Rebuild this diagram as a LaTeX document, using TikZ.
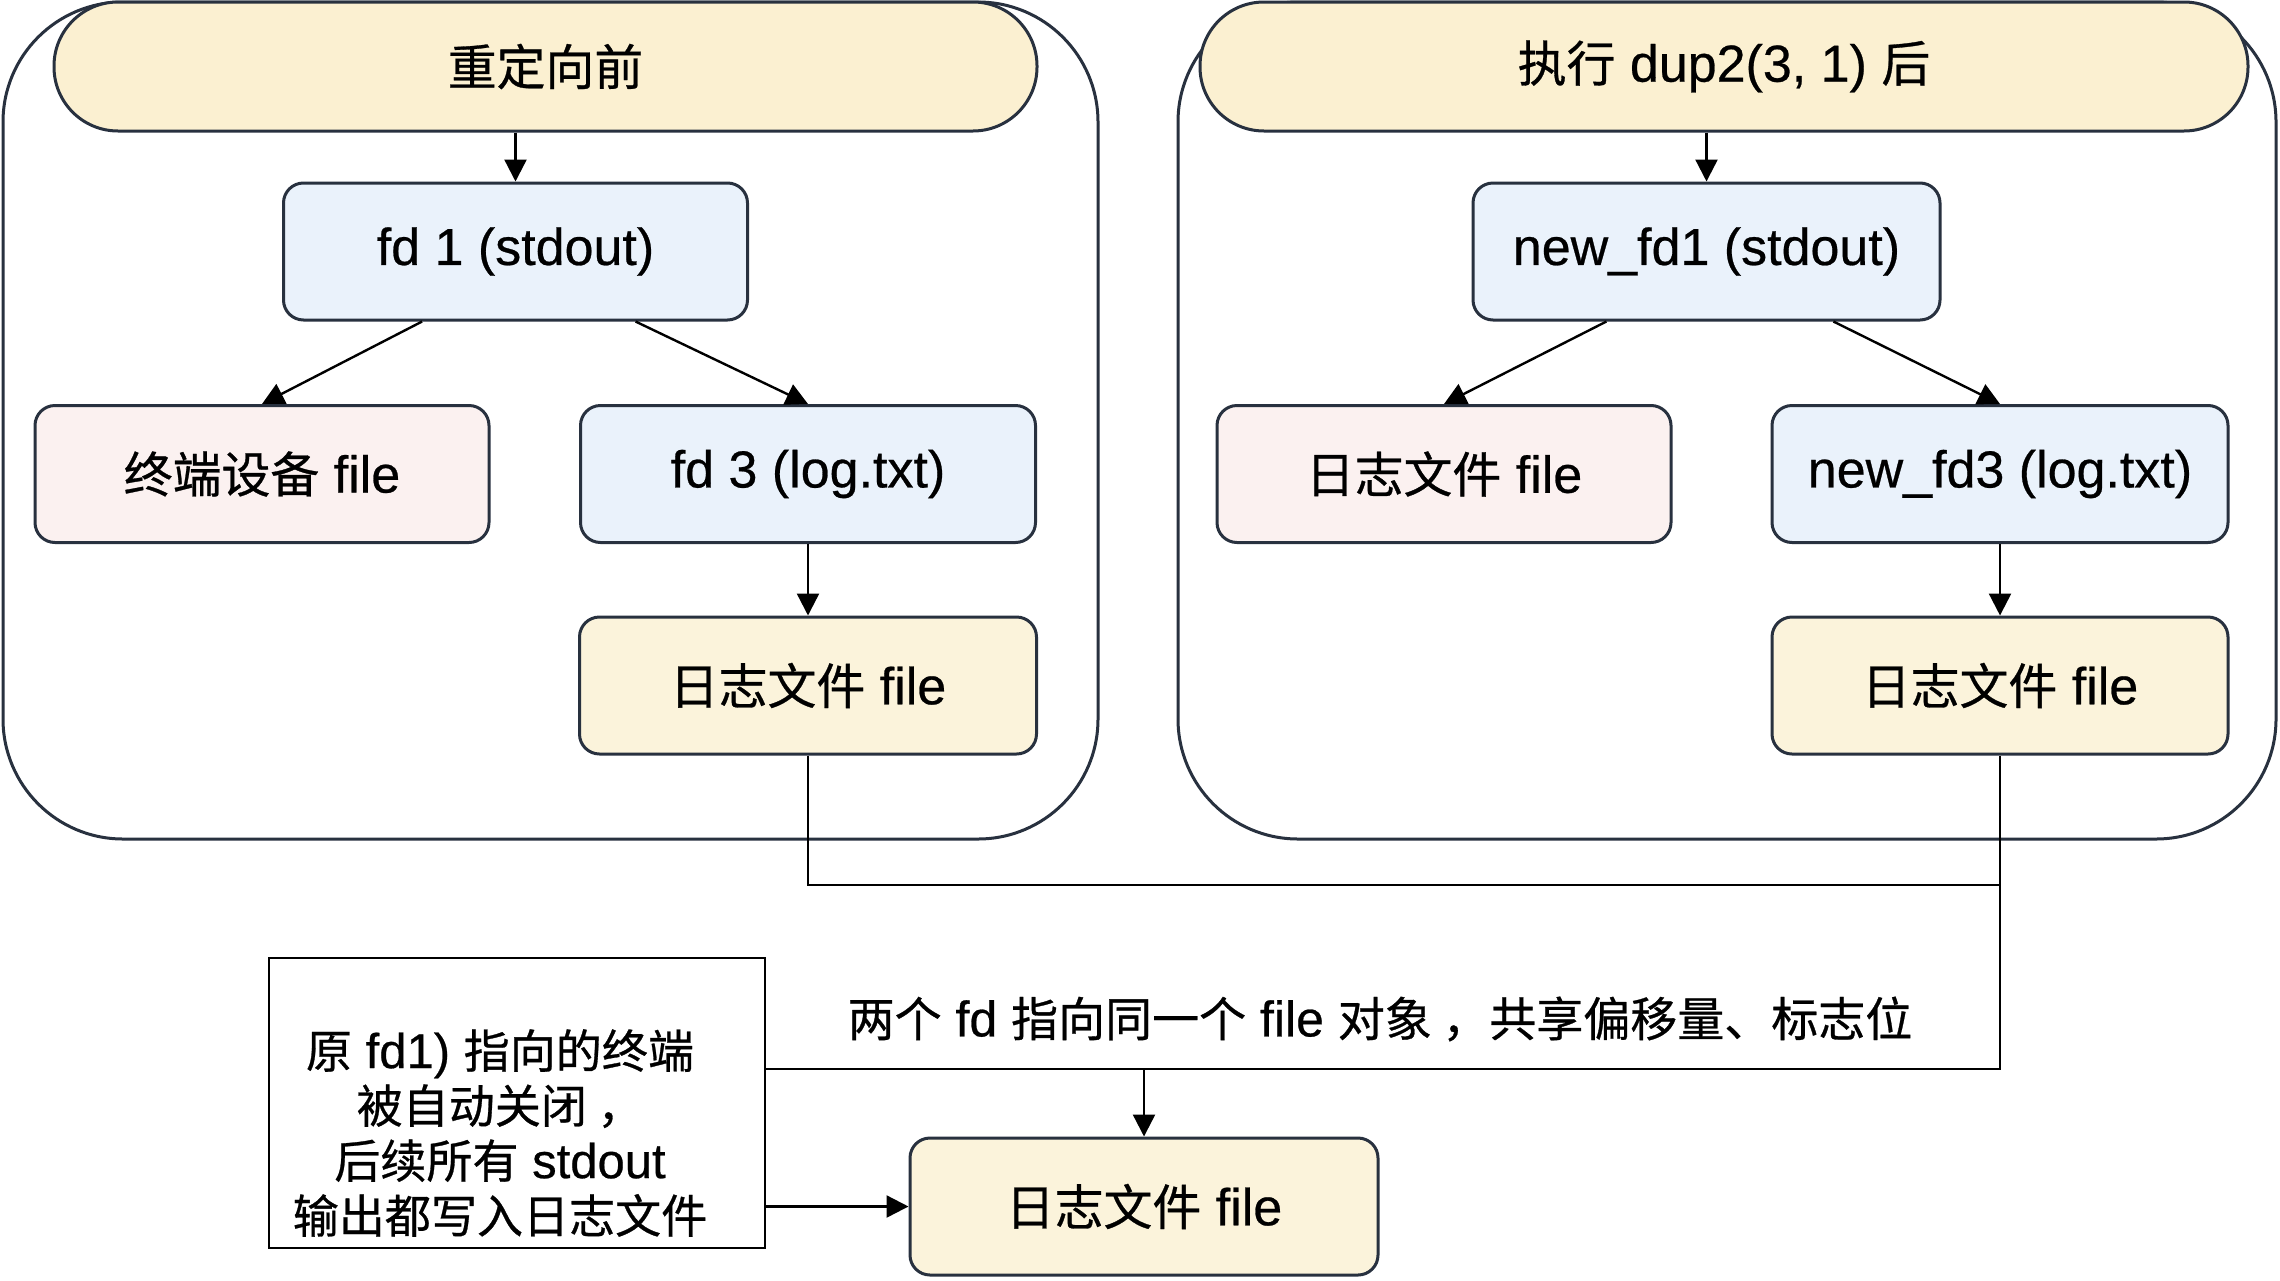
\documentclass[tikz,border=0pt]{standalone}
\usepackage{fontspec}
\setmainfont{Liberation Sans}[FakeBold=0.5]
\newfontfamily\cjkfont{Noto Sans CJK SC}[Scale=0.94,FakeBold=0.6]
\newcommand\zh[1]{{\cjkfont #1}}
\usetikzlibrary{arrows.meta,calc}
\definecolor{bord}{HTML}{28313F}
\definecolor{pillY}{HTML}{FBF0D1}
\definecolor{logY}{HTML}{FBF3DB}
\definecolor{boxB}{HTML}{EAF2FB}
\definecolor{boxP}{HTML}{FBF1F0}
\begin{document}
\begin{tikzpicture}[x=0.5pt,y=-0.5pt,
  font=\fontsize{26}{30}\selectfont,
  container/.style={draw=bord, line width=1.5pt, rounded corners=60pt, fill=white, inner sep=0pt},
  pill/.style={draw=bord, line width=1.5pt, rounded corners=32pt, fill=pillY, minimum height=64.5pt, inner sep=0pt},
  box/.style={draw=bord, line width=1.5pt, rounded corners=10pt, minimum height=68.5pt, inner sep=0pt},
  bluebox/.style={box, fill=boxB},
  pinkbox/.style={box, fill=boxP},
  logbox/.style={box, fill=logY},
  notebox/.style={draw=black, line width=1.2pt, fill=white, inner sep=0pt},
  arr/.style={-{Triangle[length=11pt,width=11pt]}, line width=1.2pt},
  ln/.style={line width=1.3pt}]
\useasboundingbox (0,0) rectangle (2280,1280);
\fill[white] (0,0) rectangle (2280,1280);

% containers
\node[container, minimum width=547.5pt, minimum height=418.5pt] (lc) at (550.5,420.5) {};
\node[container, minimum width=549pt, minimum height=418.5pt] (rc) at (1727,420.5) {};

% titles
\node[pill, minimum width=491.5pt] (lt) at (545.5,66.5) {\zh{重定向前}};
\node[pill, minimum width=524pt] (rt) at (1724,66.5) {\zh{执行} dup2(3, 1) \zh{后}};

% left side
\node[bluebox, minimum width=232pt] (fd1) at (515.5,251.5) {fd 1 (stdout)};
\node[pinkbox, minimum width=227pt] (term) at (262,474) {\zh{终端设备} file};
\node[bluebox, minimum width=227.5pt] (fd3) at (808,474) {fd 3 (log.txt)};
\node[logbox, minimum width=228.5pt] (logL) at (808,685.5) {\zh{日志文件} file};

% right side
\node[bluebox, minimum width=233.5pt] (nfd1) at (1706.5,251.5) {new\_fd1 (stdout)};
\node[pinkbox, minimum width=227pt] (logP) at (1444,474) {\zh{日志文件} file};
\node[bluebox, minimum width=228pt] (nfd3) at (2000,474) {new\_fd3 (log.txt)};
\node[logbox, minimum width=228pt] (logR) at (2000,685.5) {\zh{日志文件} file};

% bottom
\node[logbox, minimum width=234pt] (bot) at (1144,1206.5) {\zh{日志文件} file};
\node[notebox, minimum width=248pt, minimum height=145pt] (note) at (517,1103) {};
\node[align=center, font=\fontsize{24.5}{27.5}\selectfont, inner sep=0pt] (notet) at (500,1133)
  {\zh{原} fd1) \zh{指向的终端}\\\zh{被自动关闭 ，}\\\zh{后续所有} stdout\\\zh{输出都写入日志文件}};
\node[inner sep=0pt, font=\fontsize{25}{30}\selectfont] (lab) at (1380,1019)
  {\zh{两个} fd \zh{指向同一个} file \zh{对象 ，共享偏移量、标志位}};

% arrows inside containers
\draw[arr] (fd1.north |- lt.south) -- (fd1.north);
\draw[arr] ($(fd1.south west)!0.3!(fd1.south east)$) -- (term.north);
\draw[arr] ($(fd1.south west)!0.757!(fd1.south east)$) -- (fd3.north);
\draw[arr] (fd3) -- (logL);

\draw[arr] (nfd1.north |- rt.south) -- (nfd1.north);
\draw[arr] ($(nfd1.south west)!0.287!(nfd1.south east)$) -- (logP.north);
\draw[arr] ($(nfd1.south west)!0.77!(nfd1.south east)$) -- (nfd3.north);
\draw[arr] (nfd3) -- (logR);

% merge connectors
\coordinate (m) at (2000,885);
\coordinate (k) at (2000,1069);
\draw[ln] (logL.south) |- (m);
\draw[ln] (logR.south) -- (k) -- (k -| note.east);
\draw[arr] (k -| bot.north) -- (bot.north);
\draw[arr] (note.east |- bot.west) -- (bot.west);
\end{tikzpicture}
\end{document}
